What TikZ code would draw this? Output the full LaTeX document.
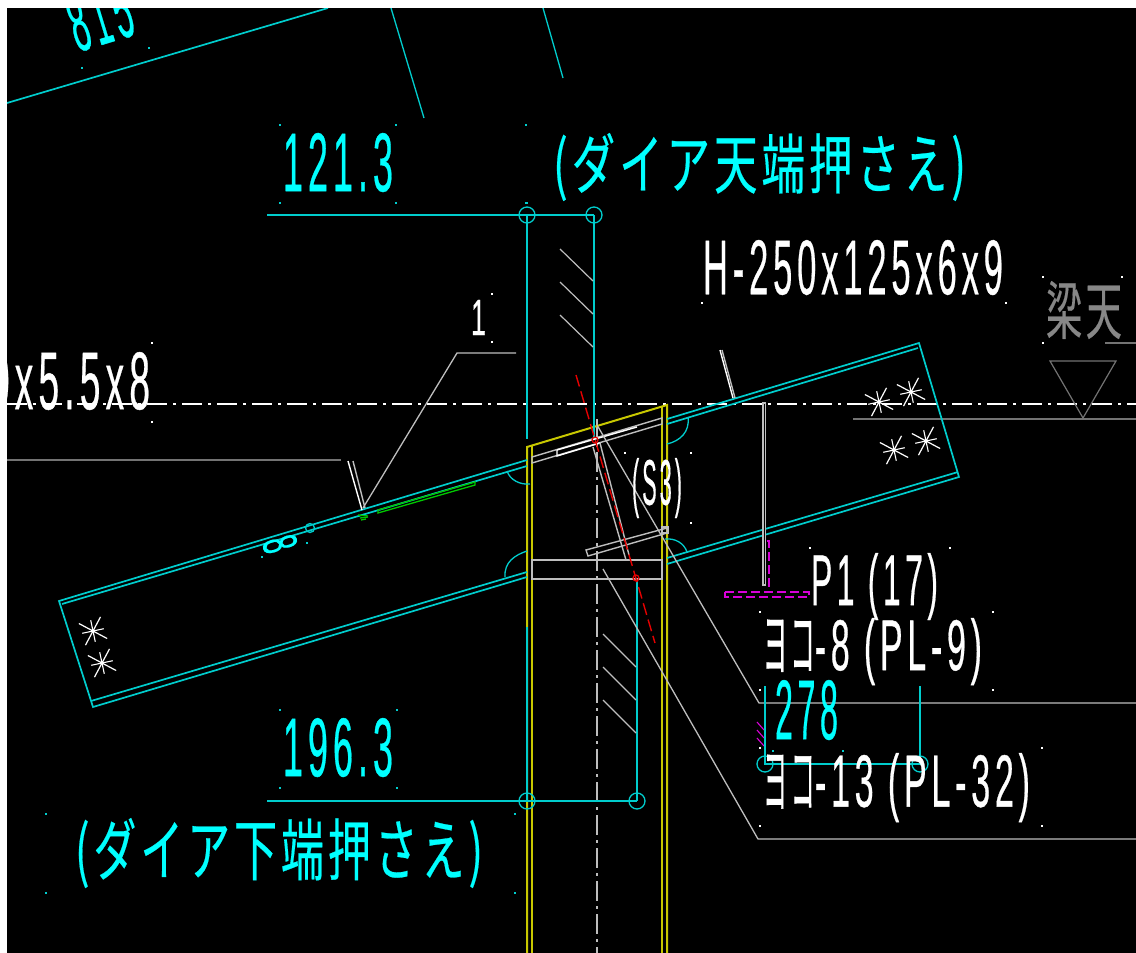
\documentclass[tikz,border=0pt]{standalone}
\usepackage{graphicx}
\usepackage{fontspec}
\setmainfont[LetterSpace=14,FakeBold=0.6]{Liberation Sans}
\newfontfamily\cjk[LetterSpace=9,FakeBold=0.4]{Noto Sans CJK JP}
\newfontfamily\cjkplain[LetterSpace=12,FakeBold=0.6]{Noto Sans CJK JP}
\definecolor{cyL}{RGB}{0,205,205}
\definecolor{cyT}{RGB}{0,255,255}
\definecolor{yel}{RGB}{200,200,0}
\definecolor{lgr}{RGB}{190,190,190}
\definecolor{dgr}{RGB}{115,115,115}
\definecolor{txg}{RGB}{135,135,135}
\definecolor{red1}{RGB}{230,0,0}
\definecolor{mag}{RGB}{215,0,215}
\definecolor{grn}{RGB}{0,200,0}
\newcommand{\fitbox}[3]{\resizebox*{#1pt}{#2pt}{#3}}
\newcommand{\yoko}{\scalebox{.72}[1]{\cjkplain ヨコ}}
\tikzset{
  every node/.style={inner sep=0pt,outer sep=0pt},
  cyline/.style={draw=cyL,line width=1.7pt},
  cythin/.style={draw=cyL,line width=1.3pt},
  hatchline/.style={draw=lgr,line width=1.2pt},
  plate/.style={draw=lgr,line width=1.4pt},
  yline/.style={draw=yel,line width=2pt},
  leader/.style={draw=lgr,line width=1.3pt},
  dimline/.style={draw=dgr,line width=1.4pt},
  chain/.style={draw=white,line width=1.4pt,dash pattern=on 20pt off 6pt on 3pt off 6pt},
  redline/.style={draw=red1,line width=1.4pt,dash pattern=on 12pt off 5pt},
  magline/.style={draw=mag,line width=1.5pt,dash pattern=on 9pt off 4pt},
  grnline/.style={draw=grn,line width=1.3pt},
  wlabel/.style={text=white,anchor=north west},
  clabel/.style={text=cyT,anchor=north west},
  glabel/.style={text=txg,anchor=north west}
}
\newcommand{\bolt}[2]{%
  \foreach \a in {28,118,208,298}{\draw[white,line width=1.2pt] (#1,#2) -- +(\a:16);}
  \foreach \a in {-12,78,168,258}{\draw[white,line width=1.1pt] (#1,#2) -- +(\a:11);}
  \fill[white] (#1,#2) circle (2);
}
\begin{document}
\begin{tikzpicture}[x=1pt,y=-1pt]
\useasboundingbox (0,0) rectangle (1136,953);
\fill[white] (0,0) rectangle (1136,953);
\fill[black] (7,8) rectangle (1136,953);
\begin{scope}
\clip (7,8) rectangle (1136,953);
% upper left beam fragments
\draw[cyline] (7,103) -- (328,8);
\draw[cythin] (391,8) -- (424,118);
\draw[cythin] (543,8) -- (563,78);
% level lines
\draw[chain] (7,404) -- (1136,404);
\draw[dimline] (7,460) -- (341,460);
\draw[dimline] (853,419) -- (1136,419);
\draw[dimline] (1105,343) -- (1136,343);
\draw[dimline,line width=1.2pt] (1050,361) -- (1116,361) -- (1083,418) -- cycle;
% column centre line
\draw[draw=lgr,line width=1.4pt,dash pattern=on 20pt off 5pt on 3pt off 5pt] (597,419) -- (597,953);
% column
\draw[yline] (527,953) -- (527,447) -- (667,405) -- (667,953);
\draw[yline] (532,953) -- (532,446);
\draw[yline] (662,953) -- (662,407);
% dimension top
\draw[cyline] (267,215) -- (594,215);
\draw[cyline] (527,215) -- (527,439);
\draw[cyline] (594,215) -- (594,440);
\draw[cythin] (527,215) circle (8);
\draw[cythin] (594,215) circle (8);
% dimension bottom
\draw[cyline] (267,801) -- (637,801);
\draw[cyline] (527,627) -- (527,801);
\draw[cyline] (637,578) -- (637,801);
\draw[cythin] (527,801) circle (8);
\draw[cythin] (637,801) circle (8);
% hatches
\foreach \y in {249,282,315}{\draw[hatchline] (560,\y) -- (593,\y+32);}
\foreach \y in {634,667,700}{\draw[hatchline] (603,\y) -- (636,\y+33);}
% left beam
\draw[cyline] (527,460) -- (59,601) -- (93,707) -- (527,577);
\draw[cyline] (527,466) -- (62,604);
\draw[cyline] (91,701) -- (527,572);
\draw[cythin] (310,528) circle (4.5);
% right beam
\draw[cyline] (667,419) -- (919,343) -- (959,477) -- (667,564);
\draw[cyline] (667,424) -- (918,348);
\draw[cyline] (958,472) -- (667,558);
% weld arcs
\draw[cythin] (507,471) .. controls (510,480) and (520,485) .. (530,484);
\draw[cythin] (505,577) .. controls (504,562) and (515,555) .. (527,551);
\draw[cythin] (688,417) .. controls (690,432) and (680,441) .. (667,444);
\draw[cythin] (665,539) .. controls (675,538) and (684,543) .. (687,552);
% green fillet marks
\draw[grnline] (378,510) -- (475,482) -- (475,485) -- (378,513) -- cycle;
\draw[grnline] (358,515) -- (368,516);
\draw[grnline] (360,518) -- (368,517);
\draw[grnline] (361,520) -- (366,519);
% inner plates
\draw[plate] (532,457) -- (662,418) -- (662,424) -- (532,463) -- cycle;
\draw[plate,draw=white] (557,450) -- (637,427);
\draw[plate,draw=white] (557,450) -- (557,456) -- (600,443);
\draw[plate] (586,550) -- (667,528) -- (667,533) -- (588,556) -- cycle;
\draw[plate] (662,527) rectangle (668,533);
\draw[plate] (532,560) rectangle (662,579);
\draw[plate] (593,447) -- (626,560);
\draw[plate] (600,443) -- (629,555);
% red slanted dashed line
\draw[redline] (576,375) -- (655,643);
\draw[red1,line width=1.2pt] (595,440) circle (3);
\draw[red1,line width=1.2pt] (636,578) circle (3);
% leaders
\draw[leader] (516,353) -- (457,353) -- (363,508);
\draw[leader] (597,425) -- (759,703) -- (1136,703);
\draw[leader] (603,569) -- (758,839) -- (1136,839);
% weld ticks
\draw[plate,draw=white] (348,461) -- (362,510);
\draw[plate] (353,461) -- (365,508);
\draw[plate,draw=white] (720,350) -- (733,398);
\draw[plate] (722,350) -- (735,398);
% vertical stiffener
\fill[lgr] (762,402) rectangle (766,586);
\draw[black,line width=.5pt] (764,404) -- (764,584);
% magenta
\draw[magline] (767,541) -- (769,541) -- (769,592);
\draw[magline] (725,592) -- (809,592) -- (809,597) -- (725,597) -- cycle;
\foreach \y in {722,730,738}{\draw[mag,line width=1.1pt] (757,\y) -- (764,\y+8);}
% 278 dimension
\draw[cyline] (765,686) -- (765,764) -- (920,764) -- (920,686);
\draw[cythin] (765,764) circle (8);
\draw[cythin] (920,764) circle (8);
% bolts
\bolt{93}{631}\bolt{102}{663}
\bolt{879}{402}\bolt{911}{392}\bolt{894}{450}\bolt{926}{441}
% text anchor specks
\foreach \x/\y in {280/125,396/125,280/203,396/203,526/125,526/203,527/203,280/710,397/710,280/788,397/788,46/814,515/814,46/893,515/893,149/48,82/68,262/557,307/543,773/751,843/751}
  {\fill[cyL] (\x-.7,\y-.7) rectangle (\x+.7,\y+.7);}
\foreach \x/\y in {760/612,993/612,993/690,760/690,810/548,950/548,810/625,760/748,1042/748,1042/826,760/826,625/453,691/453,691/523,152/343,152/422,492/294,492/342,702/303,1006/303,1043/277,1122/277,1043/343}
  {\fill[white] (\x-.7,\y-.7) rectangle (\x+.7,\y+.7);}
% labels
\node[clabel,anchor=south west,rotate=17] (tbeam) at (78,53) {\fitbox{63}{57}{815}};
\node[clabel] (ttop) at (283,133) {\fitbox{110}{59}{121.3}};
\node[clabel] (tbot) at (283,718) {\fitbox{110}{59}{196.3}};
\node[clabel] (tdiatop) at (553,133) {\fitbox{413}{68}{\cjk (ダイア天端押さえ)}};
\node[clabel] (tdiabot) at (75,818) {\fitbox{408}{70}{\cjk (ダイア下端押さえ)}};
\node[wlabel] (tH) at (703,240) {\fitbox{300}{55}{H-250x125x6x9}};
\node[glabel] (tlevel) at (1046,281) {\fitbox{76}{58}{\cjk 梁天}};
\node[wlabel] (tleft) at (-11,352) {\fitbox{161}{58}{0x5.5x8}};
\node[wlabel] (tone) at (471,300) {\fitbox{15}{35}{1}};
\node[wlabel] (ts) at (632,458) {\fitbox{50}{60}{(S3)}};
\node[wlabel] (tp) at (811,553) {\fitbox{127}{67}{P1 (17)}};
\node[wlabel] (ty8) at (763,618) {\fitbox{219}{67}{\yoko-8 (PL-9)}};
\node[wlabel] (ty13) at (763,753) {\fitbox{267}{69}{\yoko-13 (PL-32)}};
\node[clabel] (tdim) at (775,680) {\fitbox{63}{60}{278}};
\node[clabel,anchor=center,rotate=-73] (teight) at (280,544) {\fitbox{15}{35}{8}};
\end{scope}
\end{tikzpicture}
\end{document}
